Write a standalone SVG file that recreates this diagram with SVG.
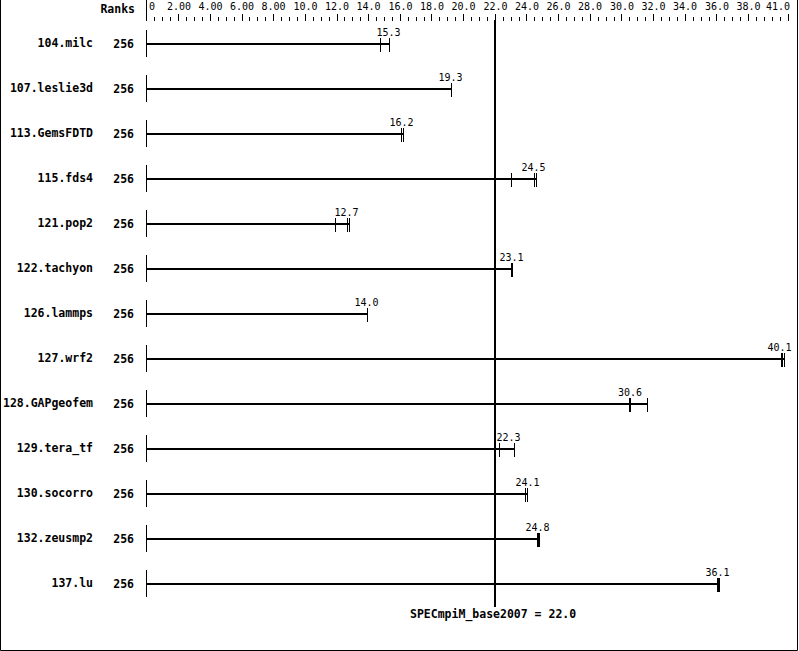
<svg xmlns="http://www.w3.org/2000/svg" width="799" height="651" viewBox="0 0 799 651">
<style>
.bg{fill:#fff}
.frame{stroke:#000;stroke-width:1;fill:none}
.tick{stroke:#000;stroke-width:1;fill:none}
.bar{fill:#000}
.name{font-family:"DejaVu Sans Mono","Liberation Mono",monospace;font-weight:bold;font-size:11.5px;fill:#000;text-anchor:end}
.val{font-family:"DejaVu Sans Mono","Liberation Mono",monospace;font-size:10px;fill:#000;text-anchor:middle}
.ax{font-family:"DejaVu Sans Mono","Liberation Mono",monospace;font-size:10px;fill:#000;text-anchor:middle}
.mean{font-family:"DejaVu Sans Mono","Liberation Mono",monospace;font-weight:bold;font-size:11.5px;fill:#000}
</style>
<rect class="bg" x="0" y="0" width="799" height="651"/>
<path class="frame" d="M0.5 0 V650.5 H797.5 V0"/>
<g id="axis">
<text class="name" x="135" y="13">Ranks</text>
<path class="tick" d="M146.5 0 V21 M154.5 17 V21 M162.5 17 V21 M170.5 17 V21 M178.5 14 V21 M186.5 17 V21 M194.5 17 V21 M202.5 17 V21 M210.5 14 V21 M218.5 17 V21 M226.5 17 V21 M234.5 17 V21 M242.5 14 V21 M249.5 17 V21 M257.5 17 V21 M265.5 17 V21 M273.5 14 V21 M281.5 17 V21 M289.5 17 V21 M297.5 17 V21 M305.5 14 V21 M313.5 17 V21 M321.5 17 V21 M329.5 17 V21 M337.5 14 V21 M344.5 17 V21 M352.5 17 V21 M360.5 17 V21 M368.5 14 V21 M376.5 17 V21 M384.5 17 V21 M392.5 17 V21 M400.5 14 V21 M408.5 17 V21 M416.5 17 V21 M424.5 17 V21 M431.5 14 V21 M439.5 17 V21 M447.5 17 V21 M455.5 17 V21 M463.5 14 V21 M471.5 17 V21 M479.5 17 V21 M487.5 17 V21 M495.5 14 V21 M503.5 17 V21 M511.5 17 V21 M519.5 17 V21 M526.5 14 V21 M534.5 17 V21 M542.5 17 V21 M550.5 17 V21 M558.5 14 V21 M566.5 17 V21 M574.5 17 V21 M582.5 17 V21 M590.5 14 V21 M598.5 17 V21 M606.5 17 V21 M614.5 17 V21 M621.5 14 V21 M629.5 17 V21 M637.5 17 V21 M645.5 17 V21 M653.5 14 V21 M661.5 17 V21 M669.5 17 V21 M677.5 17 V21 M685.5 14 V21 M693.5 17 V21 M701.5 17 V21 M709.5 17 V21 M716.5 14 V21 M724.5 17 V21 M732.5 17 V21 M740.5 17 V21 M748.5 14 V21 M756.5 17 V21 M764.5 17 V21 M772.5 17 V21 M780.5 17 V21 M788.5 14 V21"/>
<text class="ax" x="152" y="10">0</text>
<text class="ax" x="179" y="10">2.00</text>
<text class="ax" x="210.5" y="10">4.00</text>
<text class="ax" x="242" y="10">6.00</text>
<text class="ax" x="273.5" y="10">8.00</text>
<text class="ax" x="305.5" y="10">10.0</text>
<text class="ax" x="337" y="10">12.0</text>
<text class="ax" x="368.5" y="10">14.0</text>
<text class="ax" x="400.5" y="10">16.0</text>
<text class="ax" x="432" y="10">18.0</text>
<text class="ax" x="463.5" y="10">20.0</text>
<text class="ax" x="495.5" y="10">22.0</text>
<text class="ax" x="527" y="10">24.0</text>
<text class="ax" x="558.5" y="10">26.0</text>
<text class="ax" x="590" y="10">28.0</text>
<text class="ax" x="622" y="10">30.0</text>
<text class="ax" x="653.5" y="10">32.0</text>
<text class="ax" x="685" y="10">34.0</text>
<text class="ax" x="717" y="10">36.0</text>
<text class="ax" x="748.5" y="10">38.0</text>
<text class="ax" x="778" y="10">41.0</text>
</g>
<g id="r104">
<text class="name" x="93" y="47">104.milc</text><text class="name" x="134" y="48">256</text>
<path class="tick" d="M146.5 30 V57 M380.5 38 V52 M389.5 38 V52"/>
<rect class="bar" x="147" y="43" width="243" height="2"/>
<text class="val" x="388.5" y="36">15.3</text>
</g>
<g id="r107">
<text class="name" x="93" y="92">107.leslie3d</text><text class="name" x="134" y="93">256</text>
<path class="tick" d="M146.5 75 V102 M451.5 83 V97"/>
<rect class="bar" x="147" y="88" width="305" height="2"/>
<text class="val" x="450.5" y="81">19.3</text>
</g>
<g id="r113">
<text class="name" x="93" y="137">113.GemsFDTD</text><text class="name" x="134" y="138">256</text>
<path class="tick" d="M146.5 120 V147 M401.5 128 V142 M403.5 128 V142"/>
<rect class="bar" x="147" y="133" width="257" height="2"/>
<text class="val" x="401.5" y="126">16.2</text>
</g>
<g id="r115">
<text class="name" x="93" y="182">115.fds4</text><text class="name" x="134" y="183">256</text>
<path class="tick" d="M146.5 165 V192 M511.5 173 V187 M534.5 173 V187 M536.5 173 V187"/>
<rect class="bar" x="147" y="178" width="390" height="2"/>
<text class="val" x="533.5" y="171">24.5</text>
</g>
<g id="r121">
<text class="name" x="93" y="227">121.pop2</text><text class="name" x="134" y="228">256</text>
<path class="tick" d="M146.5 210 V237 M335.5 218 V232 M347.5 218 V232 M349.5 218 V232"/>
<rect class="bar" x="147" y="223" width="203" height="2"/>
<text class="val" x="346.5" y="216">12.7</text>
</g>
<g id="r122">
<text class="name" x="93" y="272">122.tachyon</text><text class="name" x="134" y="273">256</text>
<path class="tick" d="M146.5 255 V282 M511.5 263 V277 M512.5 263 V277"/>
<rect class="bar" x="147" y="268" width="366" height="2"/>
<text class="val" x="511.5" y="261">23.1</text>
</g>
<g id="r126">
<text class="name" x="93" y="317">126.lammps</text><text class="name" x="134" y="318">256</text>
<path class="tick" d="M146.5 300 V327 M367.5 308 V322"/>
<rect class="bar" x="147" y="313" width="221" height="2"/>
<text class="val" x="366.5" y="306">14.0</text>
</g>
<g id="r127">
<text class="name" x="93" y="362">127.wrf2</text><text class="name" x="134" y="363">256</text>
<path class="tick" d="M146.5 345 V372 M781.5 353 V367 M782.5 353 V367 M784.5 353 V367"/>
<rect class="bar" x="147" y="358" width="638" height="2"/>
<text class="val" x="779.5" y="351">40.1</text>
</g>
<g id="r128">
<text class="name" x="93" y="407">128.GAPgeofem</text><text class="name" x="134" y="408">256</text>
<path class="tick" d="M146.5 390 V417 M629.5 398 V412 M630.5 398 V412 M647.5 398 V412"/>
<rect class="bar" x="147" y="403" width="501" height="2"/>
<text class="val" x="630" y="396">30.6</text>
</g>
<g id="r129">
<text class="name" x="93" y="452">129.tera_tf</text><text class="name" x="134" y="453">256</text>
<path class="tick" d="M146.5 435 V462 M499.5 443 V457 M514.5 443 V457"/>
<rect class="bar" x="147" y="448" width="368" height="2"/>
<text class="val" x="508.5" y="441">22.3</text>
</g>
<g id="r130">
<text class="name" x="93" y="497">130.socorro</text><text class="name" x="134" y="498">256</text>
<path class="tick" d="M146.5 480 V507 M525.5 488 V502 M527.5 488 V502"/>
<rect class="bar" x="147" y="493" width="381" height="2"/>
<text class="val" x="527.5" y="486">24.1</text>
</g>
<g id="r132">
<text class="name" x="93" y="542">132.zeusmp2</text><text class="name" x="134" y="543">256</text>
<path class="tick" d="M146.5 525 V552 M537.5 533 V547 M538.5 533 V547 M539.5 533 V547"/>
<rect class="bar" x="147" y="538" width="393" height="2"/>
<text class="val" x="537.5" y="531">24.8</text>
</g>
<g id="r137">
<text class="name" x="93" y="587">137.lu</text><text class="name" x="134" y="588">256</text>
<path class="tick" d="M146.5 570 V597 M717.5 578 V592 M718.5 578 V592 M719.5 578 V592"/>
<rect class="bar" x="147" y="583" width="573" height="2"/>
<text class="val" x="717.5" y="576">36.1</text>
</g>
<g id="connectors">
<rect class="bar" x="494" y="20" width="2" height="587"/>
</g>
<text class="mean" x="410" y="618">SPECmpiM_base2007 = 22.0</text>
</svg>
